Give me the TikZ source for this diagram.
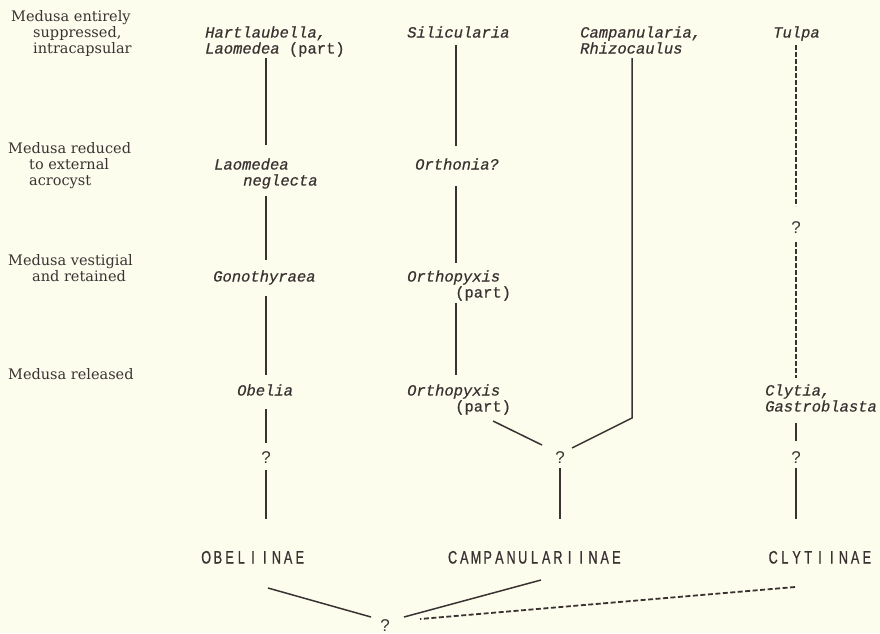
\documentclass[tikz,border=0pt]{standalone}
\usepackage{fontspec}
\newfontfamily\lblfont{DejaVu Serif}
\newfontfamily\taxfont[FakeBold=0.6]{Liberation Mono}
\newfontfamily\qfont{Liberation Sans}
\newfontfamily\subfont[FakeStretch=0.7,FakeBold=0.8]{Liberation Sans}
\definecolor{ink}{HTML}{3A3232}
\definecolor{paper}{HTML}{FDFDEE}
\makeatletter
\def\spc@loop#1{\ifx#1\relax\else\makebox[11.7pt]{#1}\expandafter\spc@loop\fi}
\newcommand\spacedcaps[1]{\spc@loop#1\relax}
\makeatother
\begin{document}
\begin{tikzpicture}[x=1pt,y=-1pt,
  lbl/.style={anchor=base west, inner sep=0pt, font=\lblfont\fontsize{14.5}{16}\selectfont, text=ink},
  tax/.style={anchor=base west, inner sep=0pt, font=\taxfont\itshape\fontsize{15.5}{16}\selectfont, text=ink},
  qm/.style={anchor=base, inner sep=0pt, font=\qfont\fontsize{17}{17}\selectfont, text=ink},
  sub/.style={anchor=base, inner sep=0pt, font=\subfont\fontsize{18}{18}\selectfont, text=ink},
  ln/.style={draw=ink, line width=1.5pt},
  dsh/.style={ln, line width=1.8pt, dash pattern=on 5pt off 2pt},
  dshb/.style={ln, line width=1.8pt, dash pattern=on 5pt off 2.5pt}]
\fill[paper] (0,0) rectangle (880,633);
\useasboundingbox (0,0) rectangle (880,633);

% left-hand labels
\node[lbl] (l1a) at (11,21.5) {Medusa entirely};
\node[lbl] (l1b) at (33,37.5) {suppressed,};
\node[lbl] (l1c) at (33,53.5) {intracapsular};
\node[lbl] (l2a) at (8,153.5) {Medusa reduced};
\node[lbl] (l2b) at (29,169.5) {to external};
\node[lbl] (l2c) at (29,185.5) {acrocyst};
\node[lbl] (l3a) at (8,265.5) {Medusa vestigial};
\node[lbl] (l3b) at (32,281.5) {and retained};
\node[lbl] (l4a) at (8,379.5) {Medusa released};

% taxa
\node[tax] (t1a) at (205,37.5) {Hartlaubella,};
\node[tax] (t1b) at (205,53.5) {Laomedea {\upshape(part)}};
\node[tax] (t2) at (407,37.5) {Silicularia};
\node[tax] (t3a) at (580,37.5) {Campanularia,};
\node[tax] (t3b) at (580,53.5) {Rhizocaulus};
\node[tax] (t4) at (773,37.5) {Tulpa};
\node[tax] (t5a) at (214,169.5) {Laomedea};
\node[tax] (t5b) at (243,185.5) {neglecta};
\node[tax] (t6) at (415,169.5) {Orthonia?};
\node[tax] (t7) at (213,281.5) {Gonothyraea};
\node[tax] (t8a) at (407,281.5) {Orthopyxis};
\node[tax] (t8b) at (455,297.5) {\upshape(part)};
\node[tax] (t9) at (237,395.5) {Obelia};
\node[tax] (t10a) at (407,395.5) {Orthopyxis};
\node[tax] (t10b) at (455,411.5) {\upshape(part)};
\node[tax] (t11a) at (765,395.5) {Clytia,};
\node[tax] (t11b) at (765,411.5) {Gastroblasta};

% question marks
\node[qm] (q1) at (266,463) {?};
\node[qm] (q2) at (560,463) {?};
\node[qm] (q3) at (796,463) {?};
\node[qm] (q4) at (796,233) {?};
\node[qm] (q5) at (385,631) {?};

% subfamilies
\node[sub] (s1) at (253,563.5) {\spacedcaps{OBELIINAE}};
\node[sub] (s2) at (534.5,563.5) {\spacedcaps{CAMPANULARIINAE}};
\node[sub] (s3) at (820,563.5) {\spacedcaps{CLYTIINAE}};

% connector end points
\coordinate (a1) at (266,58);  \coordinate (a2) at (266,145);
\coordinate (a3) at (266,196); \coordinate (a4) at (266,260);
\coordinate (a5) at (266,296); \coordinate (a6) at (266,375);
\coordinate (a7) at (266,409); \coordinate (a8) at (266,443);
\coordinate (a9) at (266,470); \coordinate (a10) at (266,519);

\coordinate (b1) at (456,45);  \coordinate (b2) at (456,146);
\coordinate (b3) at (456,186); \coordinate (b4) at (456,263);
\coordinate (b5) at (456,303); \coordinate (b6) at (456,375);
\coordinate (b7) at (493,421); \coordinate (b8) at (542,445);
\coordinate (b9) at (560,468); \coordinate (b10) at (560,519);

\coordinate (c1) at (632,58);  \coordinate (c2) at (632,418);
\coordinate (c3) at (572,448);

\coordinate (d1) at (796,45);  \coordinate (d2) at (796,206);
\coordinate (d3) at (796,242); \coordinate (d4) at (796,378);
\coordinate (d5) at (796,423); \coordinate (d6) at (796,441);
\coordinate (d7) at (796,468); \coordinate (d8) at (796,519);

\coordinate (e1) at (268,588); \coordinate (e2) at (371,617);
\coordinate (e3) at (541,580); \coordinate (e4) at (404,617);
\coordinate (e5) at (795,587); \coordinate (e6) at (420,619);

% Obeliinae column
\draw[ln] (a1) -- (a2);
\draw[ln] (a3) -- (a4);
\draw[ln] (a5) -- (a6);
\draw[ln] (a7) -- (a8);
\draw[ln] (a9) -- (a10);
% Campanulariinae columns
\draw[ln] (b1) -- (b2);
\draw[ln] (b3) -- (b4);
\draw[ln] (b5) -- (b6);
\draw[ln] (b7) -- (b8);
\draw[ln] (b9) -- (b10);
\draw[ln] (c1) -- (c2) -- (c3);
% Clytiinae column
\draw[dsh] (d1) -- (d2);
\draw[dsh] (d3) -- (d4);
\draw[ln] (d5) -- (d6);
\draw[ln] (d7) -- (d8);
% basal connections
\draw[ln] (e1) -- (e2);
\draw[ln] (e3) -- (e4);
\draw[dshb] (e5) -- (e6);
\end{tikzpicture}
\end{document}
